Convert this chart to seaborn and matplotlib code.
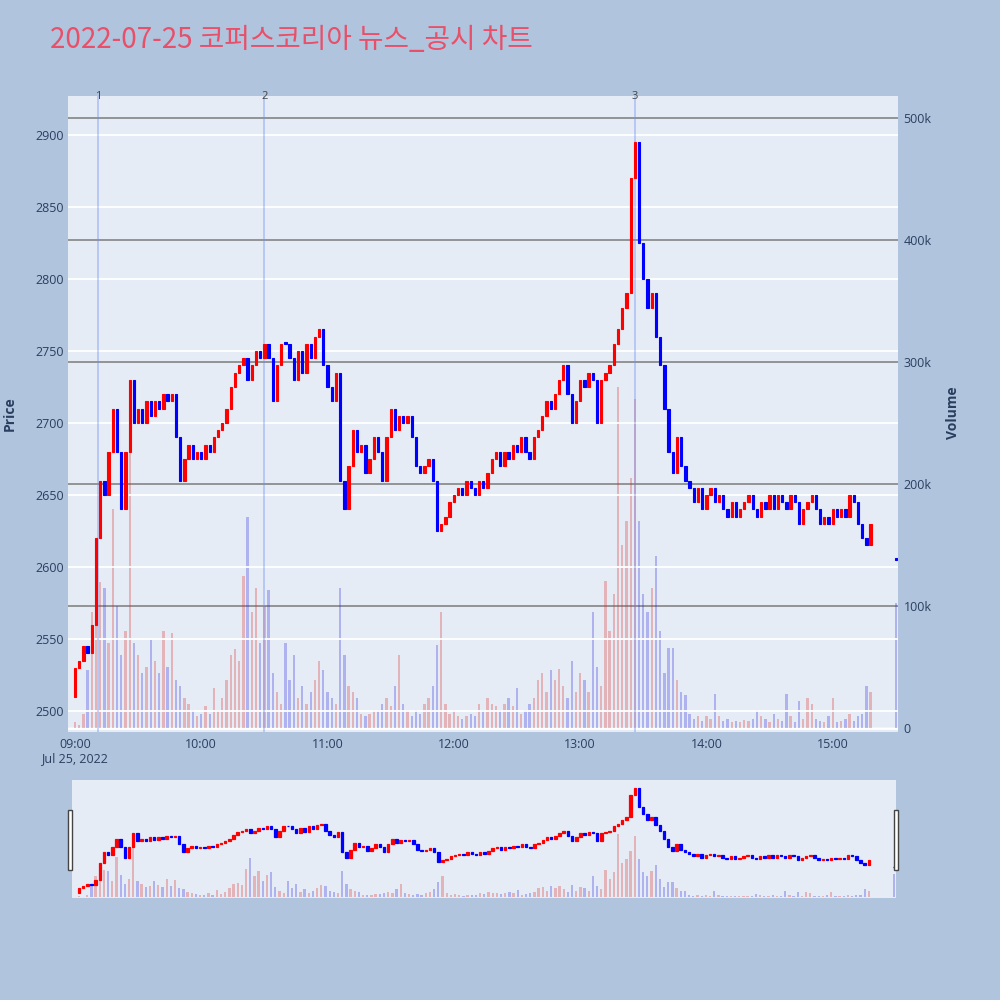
import matplotlib
matplotlib.use("Agg")
import matplotlib.pyplot as plt
import matplotlib.transforms as mtransforms
from matplotlib.patches import Rectangle
from matplotlib.ticker import FuncFormatter
import numpy as np
import pandas as pd
import seaborn as sns

# 2-minute bars
title = "2022-07-25 코퍼스코리아 뉴스_공시 차트"
start_time = "2022-07-25 09:00"
first_open = 2510

closes = [
    2530, 2535, 2545, 2540, 2560, 2620, 2660, 2650, 2680, 2710,  # 09:00
    2680, 2640, 2680, 2730, 2700, 2710, 2700, 2715, 2705, 2715,  # 09:20
    2710, 2720, 2715, 2720, 2690, 2660, 2675, 2685, 2675, 2680,  # 09:40
    2675, 2685, 2680, 2690, 2695, 2700, 2710, 2725, 2735, 2740,  # 10:00
    2745, 2730, 2740, 2750, 2745, 2755, 2745, 2715, 2740, 2755,  # 10:20
    2755, 2745, 2730, 2750, 2735, 2755, 2745, 2760, 2765, 2740,  # 10:40
    2725, 2715, 2735, 2660, 2640, 2670, 2695, 2680, 2685, 2665,  # 11:00
    2675, 2690, 2680, 2660, 2690, 2710, 2695, 2705, 2700, 2705,  # 11:20
    2690, 2670, 2665, 2670, 2675, 2660, 2625, 2630, 2635, 2645,  # 11:40
    2650, 2655, 2650, 2660, 2655, 2650, 2660, 2655, 2665, 2675,  # 12:00
    2680, 2670, 2680, 2675, 2685, 2680, 2690, 2680, 2675, 2690,  # 12:20
    2695, 2705, 2715, 2710, 2720, 2730, 2740, 2720, 2700, 2715,  # 12:40
    2730, 2725, 2735, 2730, 2700, 2730, 2735, 2740, 2755, 2765,  # 13:00
    2780, 2790, 2870, 2895, 2825, 2800, 2780, 2790, 2760, 2740,  # 13:20
    2710, 2680, 2665, 2690, 2670, 2660, 2655, 2645, 2655, 2640,  # 13:40
    2650, 2655, 2645, 2650, 2640, 2635, 2645, 2635, 2640, 2645,  # 14:00
    2650, 2640, 2635, 2645, 2640, 2650, 2640, 2650, 2645, 2640,  # 14:20
    2650, 2645, 2630, 2640, 2645, 2650, 2640, 2630, 2635, 2630,  # 14:40
    2640, 2635, 2640, 2635, 2650, 2645, 2630, 2620, 2615, 2630,  # 15:00
]

volumes_k = [
    5, 3, 12, 48, 95, 85, 120, 115, 70, 180,
    100, 60, 80, 285, 70, 60, 45, 50, 72, 55,
    45, 80, 50, 78, 40, 35, 25, 20, 15, 10,
    12, 18, 12, 33, 15, 25, 40, 60, 65, 55,
    125, 173, 95, 115, 70, 100, 113, 45, 30, 20,
    70, 40, 60, 25, 35, 20, 30, 40, 55, 48,
    30, 25, 20, 115, 60, 35, 30, 25, 12, 10,
    12, 15, 15, 20, 25, 18, 35, 60, 20, 15,
    10, 15, 12, 20, 25, 35, 68, 95, 20, 12,
    15, 10, 8, 10, 12, 10, 20, 15, 25, 20,
    18, 15, 20, 25, 18, 33, 12, 15, 20, 25,
    40, 45, 30, 48, 40, 49, 35, 25, 55, 30,
    45, 40, 30, 95, 50, 35, 121, 80, 110, 280,
    150, 170, 205, 270, 170, 110, 95, 115, 141, 80,
    45, 66, 66, 40, 30, 27, 12, 8, 10, 6,
    10, 8, 28, 10, 6, 8, 5, 6, 5, 7,
    6, 8, 15, 10, 8, 5, 12, 8, 6, 28,
    10, 5, 22, 8, 25, 20, 8, 6, 5, 10,
    25, 5, 6, 8, 12, 6, 10, 12, 35, 30,
]

# closing auction
auction_time = "2022-07-25 15:30"
auction_price = 2605
auction_volume_k = 103

event_times = ["2022-07-25 09:11", "2022-07-25 10:30", "2022-07-25 13:26"]
event_labels = ["1", "2", "3"]

hour_ticks = ["09:00", "10:00", "11:00", "12:00", "13:00", "14:00", "15:00"]

# build table
t0 = pd.Timestamp(start_time)
df = pd.DataFrame({
    "time": pd.date_range(start_time, periods=len(closes), freq="2min"),
    "close": closes,
    "volume": np.array(volumes_k) * 1000,
})
df["open"] = df["close"].shift(1).fillna(first_open)
auc = pd.DataFrame({"time": [pd.Timestamp(auction_time)], "close": [auction_price],
                    "volume": [auction_volume_k * 1000], "open": [auction_price]})
df = pd.concat([df, auc], ignore_index=True)
df["minute"] = (df["time"] - t0).dt.total_seconds() / 60
df["dir"] = np.where(df["close"] > df["open"], "up", "down")

pal = {"up": "#ff0000", "down": "#0000ff"}
fg = "#2a3f5f"
bg_plot = "#e5ecf6"

sns.set_style("white")
plt.rcParams["font.family"] = ["Open Sans", "Noto Sans CJK KR", "DejaVu Sans"]

xlim = (-3.3, 391)
price_lim = (2485.4, 2927)
vol_lim = (-3000, 518000)


def draw_candles(ax, width, lw):
    lo = np.minimum(df["open"], df["close"])
    h = np.maximum(np.abs(df["close"] - df["open"]), 1.2)
    cols = df["dir"].map(pal)
    ax.bar(df["minute"], h, bottom=lo, width=width, color=cols, edgecolor=cols,
           linewidth=lw, zorder=3)


def draw_volume(ax, width):
    sns.barplot(data=df, x="minute", y="volume", hue="dir", palette=pal, native_scale=True,
                dodge=False, width=width, alpha=0.28, errorbar=None, legend=False,
                orient="x", linewidth=0, ax=ax)
    ax.set_xlabel("")
    ax.set_ylabel("")


fig = plt.figure(figsize=(10, 10), dpi=100)
fig.patch.set_facecolor("#b0c4de")

# main chart: volume axis (right) underneath, price axis (left) on top
ax_v = fig.add_axes([0.068, 0.268, 0.830, 0.636])
ax_v.set_facecolor(bg_plot)
draw_volume(ax_v, 0.55)
ax_p = ax_v.twinx()

ax_v.set_ylim(*vol_lim)
ax_v.set_xlim(*xlim)
ax_v.set_yticks(np.arange(0, 500001, 100000))
ax_v.yaxis.set_major_formatter(FuncFormatter(lambda v, p: "0" if v == 0 else f"{int(v / 1000)}k"))
ax_v.grid(axis="y", color="#8c8c8c", lw=1.3)
ax_v.grid(axis="x", visible=False)
ax_v.axhline(0, color="white", lw=2, zorder=0.6)
ax_v.set_xticks([60 * k for k in range(len(hour_ticks))])
xt = list(hour_ticks)
xt[0] = xt[0] + "\nJul 25, 2022"
ax_v.set_xticklabels(xt)
ax_v.tick_params(axis="both", length=0, colors=fg, labelsize=9)
ax_v.tick_params(axis="x", pad=4)
ax_v.tick_params(axis="y", left=False, labelleft=False, right=False, labelright=True, pad=4)
for s in ax_v.spines.values():
    s.set_visible(False)

ax_p.set_ylim(*price_lim)
ax_p.set_yticks(np.arange(2500, 2901, 50))
ax_p.grid(axis="y", color="white", lw=1.3)
ax_p.set_axisbelow(True)
ax_p.tick_params(axis="y", length=0, colors=fg, labelsize=9, pad=3,
                 left=False, labelleft=True, right=False, labelright=False)
for s in ax_p.spines.values():
    s.set_visible(False)

for et, lab in zip(event_times, event_labels):
    m = (pd.Timestamp(et) - t0).total_seconds() / 60
    ax_p.axvline(m, color="#6e8ef5", alpha=0.45, lw=1.2, zorder=1)
    ax_p.text(m, 0.999, lab, transform=mtransforms.blended_transform_factory(ax_p.transData, ax_p.transAxes),
              ha="center", va="center", fontsize=8, color="#444444")

draw_candles(ax_p, 1.1, 0.8)
ax_p.set_xlim(*xlim)

# range slider
ax_m = fig.add_axes([0.072, 0.102, 0.824, 0.118])
ax_m.set_facecolor(bg_plot)
draw_volume(ax_m, 0.55)
ax_m2 = ax_m.twinx()
ax_m.set_ylim(*vol_lim)
ax_m.set_xlim(*xlim)
ax_m.set_xticks([])
ax_m.set_yticks([])
for s in ax_m.spines.values():
    s.set_visible(False)
draw_candles(ax_m2, 1.2, 0.9)
ax_m2.set_ylim(2492, 2926)
ax_m2.set_xlim(*xlim)
ax_m2.set_yticks([])
for s in ax_m2.spines.values():
    s.set_visible(False)

for hx in (0.0695, 0.8955):
    fig.patches.append(Rectangle((hx - 0.002, 0.130), 0.004, 0.060, transform=fig.transFigure,
                                 facecolor="white", edgecolor="#444444", lw=1, zorder=5))

fig.text(0.05, 0.960, title, fontsize=20, color="#e8506a", va="center", ha="left",
         family=["Noto Sans CJK KR", "DejaVu Sans"])
fig.text(0.010, 0.586, "Price", rotation=90, fontsize=10, fontweight="bold", color=fg,
         va="center", ha="center")
fig.text(0.953, 0.587, "Volume", rotation=90, fontsize=10, fontweight="bold", color=fg,
         va="center", ha="center")

plt.savefig("out.png", dpi=100, facecolor=fig.get_facecolor())
plt.close()
